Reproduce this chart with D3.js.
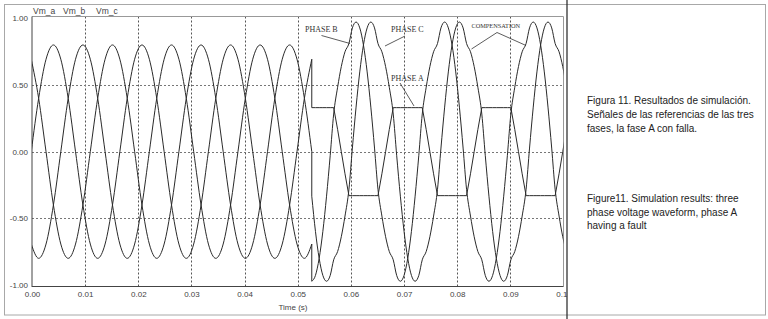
<!DOCTYPE html>
<html><head><meta charset="utf-8">
<script src="https://cdn.jsdelivr.net/npm/d3@7"></script>
<style>body{margin:0;background:#fff} svg{display:block}</style>
</head><body><svg id="c" width="768" height="319"></svg>
<script>
// ---- data (time in s, voltage in p.u.) ----
const xTicks = [0,0.01,0.02,0.03,0.04,0.05,0.06,0.07,0.08,0.09,0.10];
const xTickLabels = ["0.00","0.01","0.02","0.03","0.04","0.05","0.06","0.07","0.08","0.09","0.10"];
const yTicks = [1,0.5,0,-0.5,-1];
const yTickLabels = ["1.00","0.50","0.00","-0.50","-1.00"];
const seriesNames = ["Vm_a","Vm_b","Vm_c"];

// before the fault (sampled every 1/12 cycle)
const timePre = [-0.00014,0.00125,0.00264,0.00403,0.00542,0.00681,0.00819,0.00958,0.01097,0.01236,0.01375,0.01514,
  0.01653,0.01792,0.01931,0.02069,0.02208,0.02347,0.02486,0.02625,0.02764,0.02903,0.03042,0.03181,
  0.03319,0.03458,0.03597,0.03736,0.03875,0.04014,0.04153,0.04292,0.04431,0.04569,0.04708,0.04847,
  0.04986,0.05125,0.05264];
const vaPre = [0,0.4,0.693,0.8,0.693,0.4,0,-0.4,-0.693,-0.8,-0.693,-0.4,
  0,0.4,0.693,0.8,0.693,0.4,0,-0.4,-0.693,-0.8,-0.693,-0.4,
  0,0.4,0.693,0.8,0.693,0.4,0,-0.4,-0.693,-0.8,-0.693,-0.4,
  0,0.4,0.693];
const vbPre = [-0.693,-0.8,-0.693,-0.4,0,0.4,0.693,0.8,0.693,0.4,0,-0.4,
  -0.693,-0.8,-0.693,-0.4,0,0.4,0.693,0.8,0.693,0.4,0,-0.4,
  -0.693,-0.8,-0.693,-0.4,0,0.4,0.693,0.8,0.693,0.4,0,-0.4,
  -0.693,-0.8,-0.693];
const vcPre = [0.693,0.4,0,-0.4,-0.693,-0.8,-0.693,-0.4,0,0.4,0.693,0.8,
  0.693,0.4,0,-0.4,-0.693,-0.8,-0.693,-0.4,0,0.4,0.693,0.8,
  0.693,0.4,0,-0.4,-0.693,-0.8,-0.693,-0.4,0,0.4,0.693,0.8,
  0.693,0.4,0];

// after the fault (phase A clipped, B and C compensated)
const timePost = [0.052639,0.053333,0.054028,0.054722,0.055417,0.056111,0.056759,0.0575,0.058194,0.058889,0.05963,0.060278,
  0.060972,0.061667,0.062361,0.063056,0.06375,0.064444,0.065093,0.065833,0.066528,0.067222,0.067963,0.068611,
  0.069306,0.07,0.070694,0.071389,0.072083,0.072778,0.073426,0.074167,0.074861,0.075556,0.076296,0.076944,
  0.077639,0.078333,0.079028,0.079722,0.080417,0.081111,0.081759,0.0825,0.083194,0.083889,0.08463,0.085278,
  0.085972,0.086667,0.087361,0.088056,0.08875,0.089444,0.090093,0.090833,0.091528,0.092222,0.092963,0.093611,
  0.094306,0.095,0.095694,0.096389,0.097083,0.097778,0.098426,0.099167,0.099861,0.100556];
const vaPost = [0.33,0.33,0.33,0.33,0.33,0.33,0.33,0.166,0,-0.166,-0.33,-0.33,-0.33,-0.33,-0.33,-0.33,-0.33,-0.33,-0.33,-0.166,0,0.166,0.33,0.33,
  0.33,0.33,0.33,0.33,0.33,0.33,0.33,0.166,0,-0.166,-0.33,-0.33,-0.33,-0.33,-0.33,-0.33,-0.33,-0.33,-0.33,-0.166,0,0.166,0.33,0.33,
  0.33,0.33,0.33,0.33,0.33,0.33,0.33,0.166,0,-0.166,-0.33,-0.33,-0.33,-0.33,-0.33,-0.33,-0.33,-0.33,-0.33,-0.166,0,0.166];
const vbPost = [-0.972,-0.928,-0.8,-0.598,-0.334,-0.027,0.282,0.483,0.638,0.749,0.811,0.928,0.972,0.928,0.8,0.598,0.334,0.027,-0.282,-0.483,-0.638,-0.749,-0.811,-0.928,
  -0.972,-0.928,-0.8,-0.598,-0.334,-0.027,0.282,0.483,0.638,0.749,0.811,0.928,0.972,0.928,0.8,0.598,0.334,0.027,-0.282,-0.483,-0.638,-0.749,-0.811,-0.928,
  -0.972,-0.928,-0.8,-0.598,-0.334,-0.027,0.282,0.483,0.638,0.749,0.811,0.928,0.972,0.928,0.8,0.598,0.334,0.027,-0.282,-0.483,-0.638,-0.749];
const vcPost = [-0.334,-0.598,-0.8,-0.928,-0.972,-0.928,-0.811,-0.749,-0.638,-0.483,-0.282,0.027,0.334,0.598,0.8,0.928,0.972,0.928,0.811,0.749,0.638,0.483,0.282,-0.027,
  -0.334,-0.598,-0.8,-0.928,-0.972,-0.928,-0.811,-0.749,-0.638,-0.483,-0.282,0.027,0.334,0.598,0.8,0.928,0.972,0.928,0.811,0.749,0.638,0.483,0.282,-0.027,
  -0.334,-0.598,-0.8,-0.928,-0.972,-0.928,-0.811,-0.749,-0.638,-0.483,-0.282,0.027,0.334,0.598,0.8,0.928,0.972,0.928,0.811,0.749,0.638,0.483];

const captionEs = ["Figura 11. Resultados de simulación.","Señales de las referencias de las tres","fases, la fase A con falla."];
const captionEn = ["Figure11. Simulation results: three","phase voltage waveform, phase A","having a fault"];

// ---- drawing ----
const svg = d3.select("#c");
const X0 = 32, X1 = 563.5, YT = 16.5, YB = 286.5;
const x = d3.scaleLinear().domain([0, 0.1]).range([X0, X1]);
const y = d3.scaleLinear().domain([-1, 1]).range([285, 18.3]);

svg.append("rect").attr("width",768).attr("height",319).attr("fill","#fff");
// outer frame
svg.append("rect").attr("x",4.5).attr("y",4.5).attr("width",761).attr("height",310.5)
  .attr("fill","none").attr("stroke","#a8a8a8").attr("stroke-width",1);

const chart = svg.append("g");
svg.append("defs").append("clipPath").attr("id","plotclip")
  .append("rect").attr("x",X0).attr("y",YT).attr("width",X1-X0).attr("height",YB-YT);
svg.select("defs").append("clipPath").attr("id","leftclip")
  .append("rect").attr("x",0).attr("y",0).attr("width",567).attr("height",319);

// grid
const g = chart.append("g");
g.selectAll("line.vg").data(xTicks.slice(1, -1)).join("line")
  .attr("x1", d => Math.round(x(d)) + 0.5).attr("x2", d => Math.round(x(d)) + 0.5)
  .attr("y1", YT).attr("y2", YB)
  .attr("stroke","#555").attr("stroke-width",1).attr("stroke-dasharray","2,2");
g.selectAll("line.hg").data([0.5, 0, -0.5]).join("line")
  .attr("x1", X0).attr("x2", X1)
  .attr("y1", d => Math.round(y(d)) + 0.5).attr("y2", d => Math.round(y(d)) + 0.5)
  .attr("stroke","#777").attr("stroke-width",1).attr("stroke-dasharray","2,2");

// frame
chart.append("line").attr("x1",X0).attr("x2",X1).attr("y1",YT).attr("y2",YT).attr("stroke","#999");
chart.append("line").attr("x1",X1).attr("x2",X1).attr("y1",YT).attr("y2",YB).attr("stroke","#999");
chart.append("line").attr("x1",X0).attr("x2",X0).attr("y1",YT).attr("y2",YB+0.5).attr("stroke","#444");
chart.append("line").attr("x1",X0).attr("x2",X1).attr("y1",YB).attr("y2",YB).attr("stroke","#444");

// waveforms
const w = chart.append("g").attr("clip-path","url(#plotclip)")
  .attr("fill","none").attr("stroke","#2a2a2a").attr("stroke-width",1);
const smooth = d3.line().x(d => x(d[0])).y(d => y(d[1])).curve(d3.curveMonotoneX);
const straight = d3.line().x(d => x(d[0])).y(d => y(d[1]));
const zipT = (ts, vs) => ts.map((t, i) => [t, vs[i]]);
[[vaPre, vaPost, straight],[vbPre, vbPost, smooth],[vcPre, vcPost, smooth]].forEach(([pre, post, postLine]) => {
  const a = zipT(timePre, pre), b = zipT(timePost, post);
  w.append("path").attr("d", smooth(a));
  w.append("path").attr("d", straight([a[a.length-1], b[0]]));
  w.append("path").attr("d", postLine(b));
});

// axes
const axisFont = "'Liberation Sans', Arial, sans-serif";
const xa = chart.append("g").attr("transform",`translate(0,${YB})`)
  .call(d3.axisBottom(x).tickValues(xTicks).tickSize(0).tickPadding(5).tickFormat((d,i) => xTickLabels[i]));
const ya = chart.append("g").attr("transform",`translate(${X0},0)`)
  .call(d3.axisLeft(y).tickValues(yTicks).tickSize(0).tickPadding(4).tickFormat((d,i) => yTickLabels[i]));
[xa, ya].forEach(a => {
  a.select(".domain").remove();
  a.selectAll("text").attr("font-family", axisFont).attr("font-size", 8).attr("fill","#444");
});
xa.attr("clip-path","url(#leftclip)");
chart.append("text").attr("x", 293).attr("y", 310).attr("text-anchor","middle")
  .attr("font-family", axisFont).attr("font-size", 8).attr("fill","#444").text("Time (s)");

// series names
const nameX = [33, 63, 96];
chart.selectAll("text.sn").data(seriesNames).join("text")
  .attr("x", (d,i) => nameX[i]).attr("y", 13.5)
  .attr("font-family", axisFont).attr("font-size", 8.5).attr("fill","#444").text(d => d);

// annotations
const serif = "'Liberation Serif', 'Times New Roman', serif";
const ann = chart.append("g").attr("font-family", serif).attr("fill","#333");
ann.append("text").attr("x",305).attr("y",32).attr("font-size",8).text("PHASE B");
ann.append("text").attr("x",391).attr("y",32).attr("font-size",8).text("PHASE C");
ann.append("text").attr("x",391).attr("y",80.5).attr("font-size",8).text("PHASE A");
ann.append("text").attr("x",471.5).attr("y",27.5).attr("font-size",6.3).text("COMPENSATION");
const leaders = [[321.5,35.5,350,43.5],[405,36,385,46],[400,83,414,106],[497,32.5,471.5,49],[497,32.5,526,45.5]];
chart.selectAll("line.ld").data(leaders).join("line")
  .attr("x1", d => d[0]).attr("y1", d => d[1]).attr("x2", d => d[2]).attr("y2", d => d[3])
  .attr("stroke","#333").attr("stroke-width",0.8);

// divider
svg.append("line").attr("x1",567).attr("x2",567).attr("y1",0).attr("y2",319)
  .attr("stroke","#222").attr("stroke-width",1.2);

// caption
const capFont = "'Liberation Sans', Arial, sans-serif";
svg.append("g").selectAll("text").data(captionEs).join("text")
  .attr("x",587).attr("y",(d,i) => 104 + i*14)
  .attr("font-family",capFont).attr("font-size",10).attr("fill","#222").text(d => d);
svg.append("g").selectAll("text").data(captionEn).join("text")
  .attr("x",587).attr("y",(d,i) => 202 + i*13.5)
  .attr("font-family",capFont).attr("font-size",10).attr("fill","#222").text(d => d);
</script></body></html>
